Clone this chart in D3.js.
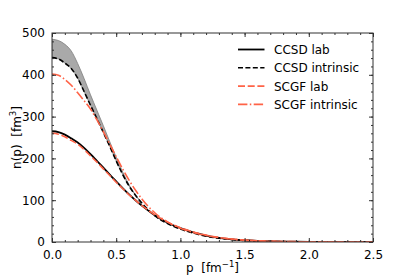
<!DOCTYPE html>
<html>
<head>
<meta charset="utf-8">
<script src="https://cdn.jsdelivr.net/npm/d3@7"></script>
<style>
  body { margin: 0; background: #fff; }
  svg { display: block; font-family: "DejaVu Sans", sans-serif; }
</style>
</head>
<body>
<svg id="chart"></svg>
<script>
// momentum grid [fm^-1]
const pGrid = [0, 0.05, 0.1, 0.15, 0.2, 0.25, 0.3, 0.35, 0.4, 0.45, 0.5, 0.55, 0.6, 0.65, 0.7, 0.75, 0.8,
  0.9, 1.0, 1.1, 1.2, 1.3, 1.4, 1.5, 1.6, 1.7, 1.8, 1.9, 2.0, 2.2, 2.5];

const ccsdLab = [265, 263, 257, 248, 238, 225, 210, 194, 178, 161, 145, 129, 114, 100, 87, 75, 64,
  46, 33, 23, 15.5, 10, 6.5, 4.2, 2.7, 1.7, 1.1, 0.7, 0.45, 0.2, 0.05];
const ccsdIntrinsic = [441, 438, 428, 415, 392, 360, 327, 295, 262, 229, 194, 162, 134, 112, 93, 77, 63,
  44, 31, 21.5, 14, 9, 5.8, 3.7, 2.3, 1.5, 0.9, 0.6, 0.4, 0.15, 0.04];
// upper edge of the grey band (first 15 grid points, p <= 0.7)
const ccsdBandTop = [485, 482, 473, 457, 427, 391, 352, 315, 278, 240, 203, 168, 137, 113, 93];
const scgfLab = [260, 258, 252, 243, 234, 221, 206, 191, 175, 159, 143, 128, 113, 100, 87, 76, 65,
  47.5, 34, 24, 16.5, 11, 7.2, 4.7, 3.0, 1.9, 1.2, 0.8, 0.5, 0.2, 0.05];
const scgfIntrinsic = [402, 399, 389, 375, 357, 338, 318, 292, 264, 234, 204, 175, 148, 124, 103, 85, 70,
  48, 33, 23, 15.5, 10.5, 7, 4.5, 2.9, 1.8, 1.1, 0.7, 0.45, 0.18, 0.04];

const xTicks = [0, 0.5, 1.0, 1.5, 2.0, 2.5];
const yTicks = [0, 100, 200, 300, 400, 500];

const seriesNames = ["CCSD lab", "CCSD intrinsic", "SCGF lab", "SCGF intrinsic"];

const width = 415, height = 277;
const margin = { top: 33, right: 42, bottom: 35, left: 52 };
const red = "#ff6347";

const svg = d3.select("#chart")
    .attr("width", width)
    .attr("height", height)
    .attr("viewBox", [0, 0, width, height]);

const x = d3.scaleLinear().domain([0, 2.5]).range([margin.left, width - margin.right]);
const y = d3.scaleLinear().domain([0, 500]).range([height - margin.bottom, margin.top]);

const plot = svg.append("g");
plot.append("clipPath").attr("id", "clip")
    .append("rect")
    .attr("x", x(0)).attr("y", y(500))
    .attr("width", x(2.5) - x(0)).attr("height", y(0) - y(500));

const body = plot.append("g").attr("clip-path", "url(#clip)");

// grey uncertainty band
const bandData = ccsdBandTop.map((v, i) => ({ p: pGrid[i], lo: ccsdIntrinsic[i], hi: v }));
body.append("path")
    .datum(bandData)
    .attr("fill", "#a9a9a9")
    .attr("stroke", "#7f7f7f")
    .attr("stroke-width", 0.8)
    .attr("d", d3.area().x(d => x(d.p)).y0(d => y(d.lo)).y1(d => y(d.hi)).curve(d3.curveMonotoneX));

const line = d3.line().x(d => x(d[0])).y(d => y(d[1])).curve(d3.curveMonotoneX);
const styles = [
    { vals: ccsdLab, color: "#000", dash: null, w: 1.8 },
    { vals: ccsdIntrinsic, color: "#000", dash: "5,2.4", w: 1.6 },
    { vals: scgfLab, color: red, dash: "7,2.7", w: 1.6 },
    { vals: scgfIntrinsic, color: red, dash: "9.4,2.4,1.5,2.4", w: 1.6 }
];

styles.forEach(s => {
    body.append("path")
        .datum(s.vals.map((v, i) => [pGrid[i], v]))
        .attr("fill", "none")
        .attr("stroke", s.color)
        .attr("stroke-width", s.w)
        .attr("stroke-dasharray", s.dash)
        .attr("d", line);
});

// axes: ticks inward on all four sides
const xMinor = d3.range(0, 2.5001, 0.1);
const yMinor = d3.range(0, 501, 20);

const axisBottom = d3.axisBottom(x).tickValues(xTicks).tickFormat(d3.format(".1f")).tickSizeInner(-4).tickSizeOuter(0).tickPadding(8);
const axisLeft = d3.axisLeft(y).tickValues(yTicks).tickFormat(d3.format("d")).tickSizeInner(-4).tickSizeOuter(0).tickPadding(7);

svg.append("g").attr("transform", `translate(0,${y(0)})`).call(axisBottom);
svg.append("g").attr("transform", `translate(${x(0)},0)`).call(axisLeft);
svg.append("g").attr("transform", `translate(0,${y(0)})`)
    .call(d3.axisBottom(x).tickValues(xMinor).tickSizeInner(-2).tickSizeOuter(0).tickFormat(""));
svg.append("g").attr("transform", `translate(0,${y(500)})`)
    .call(d3.axisTop(x).tickValues(xMinor).tickSizeInner(-2).tickSizeOuter(0).tickFormat(""));
svg.append("g").attr("transform", `translate(0,${y(500)})`)
    .call(d3.axisTop(x).tickValues(xTicks).tickSizeInner(-4).tickSizeOuter(0).tickFormat(""));
svg.append("g").attr("transform", `translate(${x(0)},0)`)
    .call(d3.axisLeft(y).tickValues(yMinor).tickSizeInner(-2).tickSizeOuter(0).tickFormat(""));
svg.append("g").attr("transform", `translate(${x(2.5)},0)`)
    .call(d3.axisRight(y).tickValues(yMinor).tickSizeInner(-2).tickSizeOuter(0).tickFormat(""));
svg.append("g").attr("transform", `translate(${x(2.5)},0)`)
    .call(d3.axisRight(y).tickValues(yTicks).tickSizeInner(-4).tickSizeOuter(0).tickFormat(""));

svg.selectAll(".domain").remove();
svg.selectAll(".tick line").attr("stroke", "#333");
svg.selectAll(".tick text").attr("font-size", 12).attr("fill", "#000").attr("font-family", "DejaVu Sans");

// frame
svg.append("rect")
    .attr("x", x(0)).attr("y", y(500))
    .attr("width", x(2.5) - x(0)).attr("height", y(0) - y(500))
    .attr("fill", "none").attr("stroke", "#333").attr("stroke-width", 1);

// axis labels
const xl = svg.append("text")
    .attr("x", (x(0) + x(2.5)) / 2).attr("y", 272)
    .attr("text-anchor", "middle").attr("font-size", 12);
xl.append("tspan").text("p\u00a0\u00a0[fm");
xl.append("tspan").attr("dy", -5).attr("font-size", 8.5).text("\u22121");
xl.append("tspan").attr("dy", 5).text("]");

const yl = svg.append("text")
    .attr("transform", `translate(21,${(y(0) + y(500)) / 2}) rotate(-90)`)
    .attr("text-anchor", "middle").attr("font-size", 12);
yl.append("tspan").text("n(p)\u00a0\u00a0[fm");
yl.append("tspan").attr("dy", -5).attr("font-size", 8.5).text("3");
yl.append("tspan").attr("dy", 5).text("]");

// legend
const legend = svg.append("g");
seriesNames.forEach((name, i) => {
    const s = styles[i];
    const ly = 49.5 + i * 18.3;
    legend.append("line")
        .attr("x1", 238).attr("x2", 264.5).attr("y1", ly).attr("y2", ly)
        .attr("stroke", s.color).attr("stroke-width", s.w)
        .attr("stroke-dasharray", s.dash);
    legend.append("text")
        .attr("x", 274).attr("y", ly + 4.5)
        .attr("font-size", 12).text(name);
});
</script>
</body>
</html>
